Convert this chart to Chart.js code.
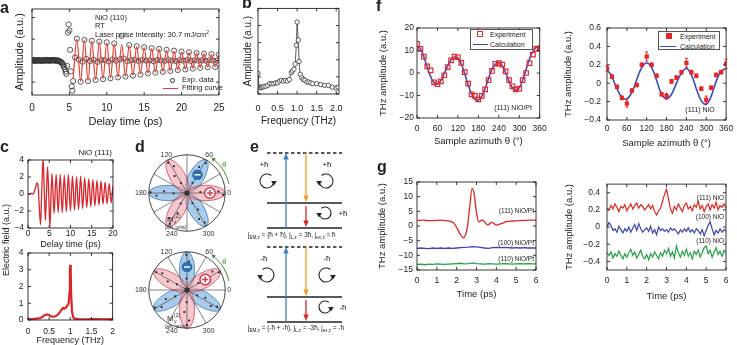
<!DOCTYPE html>
<html>
<head>
<meta charset="utf-8">
<script src="https://cdn.jsdelivr.net/npm/chart.js@4.4.1/dist/chart.umd.min.js"></script>
<style>
  body { margin: 0; background: #fff; }
  #fig { position: relative; width: 737px; height: 345px; overflow: hidden; background: #fff;
         font-family: "Liberation Sans", Arial, sans-serif; color: #222; }
  #fig canvas { position: absolute; }
  .txt { position: absolute; white-space: nowrap; line-height: 1; }
  .box { position: absolute; border: 1px solid #555; background: #fff; box-sizing: border-box; }
  .mk { position: absolute; box-sizing: border-box; }
</style>
</head>
<body>
<div id="fig"></div>
<script>
// ---------- panel a : NiO (110) time trace ----------
const aEarlyStart = 0, aEarlyStep = 0.1;
const aEarly = [0.02,-0.01,0.01,0.03,-0.02,0.00,0.02,0.01,-0.01,0.02,
                0.03,0.00,-0.02,0.01,0.02,0.00,0.01,-0.01,0.02,0.03,
                0.01,0.00,0.02,-0.01,0.01,0.02,0.00,0.01,0.03,0.02,
                0.00,0.01,0.02,-0.01,0.00,0.01,-0.02,-0.04,-0.06,-0.08,
                -0.10,-0.15,-0.22,-0.30,-0.40,-0.52,-0.62,-0.25,1.30,1.68,
                1.40,0.50,-0.50,-1.20,-1.40,-0.95];
const aExpStart = 5.75, aExpStep = 0.25;
const aExp = [0.15,
  1.02,0.05,-0.98,-0.05, 0.96,0.08,-0.95,-0.02, 0.92,0.04,-0.90,-0.06, 0.88,0.03,-0.86,0.02,
  0.85,-0.04,-0.82,0.05, 0.80,0.00,-0.78,0.06, 1.15,0.10,-0.74,-0.03, 0.72,0.02,-0.70,0.04,
  0.67,-0.02,-0.65,0.03, 0.62,0.00,-0.60,0.02, 0.58,-0.03,-0.56,0.03, 0.54,0.01,-0.52,-0.02,
  0.50,0.03,-0.48,0.00, 0.46,-0.02,-0.44,0.02, 0.42,0.00,-0.41,0.03, 0.39,-0.02,-0.37,0.02,
  0.35,0.00,-0.34,0.02, 0.32,-0.01,-0.31,0.02, 0.30,0.00,-0.29,0.01, 0.28];
const aFitStart = 5.5, aFitStep = 0.5;
const aFit = [-0.85, 1.0,-0.97, 0.95,-0.93, 0.91,-0.89, 0.87,-0.85, 0.83,-0.81, 0.79,-0.77,
  0.75,-0.73, 0.71,-0.69, 0.66,-0.64, 0.62,-0.60, 0.57,-0.55, 0.53,-0.51, 0.49,-0.47,
  0.45,-0.43, 0.41,-0.40, 0.38,-0.36, 0.35,-0.33, 0.32,-0.30, 0.29,-0.28, 0.27];
const aYTicks = [-1, 0, 1, 2];

// ---------- panel b : spectrum ----------
const bFreq = [0,0.03,0.06,0.09,0.12,0.15,0.2,0.25,0.3,0.35,0.4,0.45,0.5,0.55,0.6,0.65,0.7,0.75,0.8,0.85,
               0.88,0.92,0.95,0.98,1.0,1.03,1.05,1.08,1.12,1.16,1.2,1.25,1.3,1.35,1.4,1.5,1.6,1.7,1.8,1.9,2.0,2.05];
const bAmp = [0.24,0.08,0.07,0.08,0.08,0.09,0.09,0.10,0.12,0.12,0.12,0.13,0.13,0.15,0.16,0.15,0.16,0.15,0.17,0.25,
              0.27,0.29,0.35,0.57,0.84,0.63,0.38,0.23,0.19,0.17,0.16,0.14,0.14,0.13,0.12,0.12,0.11,0.10,0.10,0.08,0.07,0.08];
const bXTicks = [0, 0.5, 1, 1.5, 2];

// ---------- panel c : NiO (111) ----------
const cTime = [0,0.4,0.8,1.2,1.5,1.8,2.1,2.35,2.6,2.95,3.25,3.55,3.85,4.1,4.35,4.6,4.88,5.15,5.4,5.65,
  6.14,6.62,7.1,7.58,8.06,8.54,9.02,9.5,9.98,10.46,10.94,11.42,11.9,12.38,12.86,13.34,13.82,14.3,14.78,15.26,
  15.74,16.22,16.7,17.18,17.66,18.14,18.62,19.1,19.58,20];
const cField = [0.05,-0.05,0.1,0.0,0.3,0.8,1.3,1.1,-1.0,-3.6,0.5,4.2,0.2,-3.1,0.0,3.2,0.0,-3.9,-0.5,2.4,
  -2.3,2.3,-2.2,2.3,-2.2,2.2,-2.1,2.3,-2.0,2.1,-1.9,2.0,-1.8,2.1,-1.7,1.9,-1.6,1.8,-1.5,1.7,
  -1.4,1.6,-1.3,1.5,-1.2,1.4,-1.15,1.25,-1.05,1.0];
const cFreq = [0,0.1,0.2,0.3,0.35,0.4,0.45,0.5,0.55,0.6,0.65,0.7,0.75,0.8,0.83,0.86,0.9,0.93,0.96,0.98,
  0.99,1.0,1.01,1.02,1.04,1.07,1.1,1.2,1.4,1.6,1.8,2.0];
const cSpec = [0.05,0.05,0.08,0.12,0.2,0.3,0.33,0.28,0.22,0.2,0.22,0.3,0.45,0.65,0.72,0.68,0.75,0.85,1.0,1.6,
  3.0,3.3,2.8,1.5,0.5,0.15,0.08,0.05,0.04,0.05,0.04,0.05];

// ---------- panel d : polar lobes ----------
const dAngleLabels = ['0','60','120','180','240','300'];
const dTopBlue = [60,180,300], dTopRed = [0,120,240];
const dBotBlue = [90,210,330], dBotRed = [30,150,270];
const dTopDotAng = [62,56,65,58, 182,176,185,179, 298,304,295,301, 4,-5,3,-3, 121,126,116,122, 239,245,235,241];
const dBotDotAng = [92,97,86,91, 208,203,214,209, 332,337,326,331, 31,25,36,29, 151,156,146,150, 268,263,274,270];
const dDotR = [0.3,0.55,0.75,0.92, 0.35,0.6,0.8,0.95, 0.3,0.52,0.75,0.9, 0.35,0.6,0.82,0.95, 0.3,0.55,0.78,0.93, 0.32,0.58,0.8,0.92];

// ---------- panel e : level scheme ----------
const eLevelY = [13,63,88,107,157,182];
const eLevelDash = [1,0,0,1,0,0];
const eLevelX = [19,94];
const eArrows = [[38,88,13,'#3b82c4'],[58,13,62,'#f0a020'],[58,66,87,'#d8262a'],
                 [38,182,107,'#3b82c4'],[58,107,156,'#f0a020'],[58,160,181,'#d8262a']];
const eCurls = [[19,41,7,0,'+ħ',16,25],[78,41,7,1,'+ħ',79,25],[77,73,6,1,'+ħ',95,74],
                [19,135,7,1,'-ħ',16,119],[78,135,7,0,'-ħ',79,119],[77,167,6,0,'-ħ',95,168]];

// ---------- panel f : azimuth dependence ----------
const fAngStep = 10;
const fExp = [12.9,10.7,7.3,2.9,1.2,-4.2,-5.0,-3.7,-1.0,2.6,5.6,7.3,7.0,4.5,0.4,-4.7,-9.5,-10.2,-11.7,-10.2,
              -7.3,-3.2,0.9,4.1,4.4,3.7,0.7,-3.2,-5.9,-7.3,-6.9,-3.2,0.0,4.4,8.2,10.7,11.0];
const fCalc = [12.0,10.8,7.2,2.6,-1.6,-4.4,-5.0,-3.4,-0.2,3.2,5.9,7.1,6.6,4.0,-0.3,-5.2,-9.3,-11.6,-12.0,-10.4,
               -6.8,-2.4,1.6,4.0,4.6,3.2,0.2,-3.6,-6.6,-7.6,-6.6,-3.2,1.6,6.2,9.6,11.4,12.0];
const fAngStepR = 15;
const fExpR = [0.16,0.07,-0.04,-0.16,-0.22,-0.08,-0.02,0.20,0.29,0.20,0.08,-0.12,-0.14,0.02,0.06,0.12,0.22,0.12,0.08,-0.06,
               -0.18,-0.05,0.09,0.12,0.21];
const fErrR = [0.03,0.02,0.02,0.02,0.04,0.02,0.02,0.02,0.05,0.02,0.02,0.02,0.03,0.02,0.02,0.02,0.05,0.02,0.02,0.02,
               0.04,0.02,0.02,0.02,0.05];
const fCalcR = [0.15,0.07,-0.06,-0.15,-0.17,-0.10,0.04,0.17,0.22,0.17,0.03,-0.12,-0.17,-0.12,0.0,0.11,0.16,0.09,-0.06,-0.19,
                -0.23,-0.14,0.02,0.13,0.16];

// ---------- panel g : THz waveforms ----------
const gRedT = [0,0.3,0.6,0.9,1.2,1.5,1.7,1.85,2.0,2.15,2.33,2.45,2.55,2.65,2.78,2.88,3.0,3.12,3.25,3.35,
               3.5,3.6,3.75,3.85,4.0,4.15,4.3,4.5,4.8,5.1,5.4,5.7,6.0];
const gRed = [1.9,2.0,1.8,1.9,2.0,1.8,1.6,1.0,-0.5,-2.5,-4.0,-3.0,0.0,6.0,12.8,11.0,4.5,1.4,2.0,1.8,
              0.6,0.4,1.3,1.0,0.3,0.6,0.9,1.5,1.7,1.8,1.9,2.0,2.0];
const gSlowStep = 0.2;
const gBlue = [-7.6,-7.5,-7.6,-7.7,-7.5,-7.6,-7.5,-7.6,-7.5,-7.6,-7.5,-7.4,-7.3,-7.2,-7.0,-7.1,-7.3,-7.5,-7.6,-7.4,
               -7.3,-7.4,-7.3,-7.4,-7.5,-7.4,-7.5,-7.4,-7.5,-7.5,-7.5];
const gGreen = [-13.1,-13.0,-13.2,-13.0,-13.1,-12.9,-13.0,-13.1,-13.0,-12.9,-12.8,-12.7,-12.9,-12.8,-12.6,-12.8,-12.9,-13.0,-12.8,-12.9,
                -13.0,-12.9,-12.8,-12.9,-13.0,-12.9,-12.8,-12.9,-12.8,-12.9,-12.9];
const gFastStep = 0.1;
const gRedR = [0.22,0.20,0.25,0.21,0.27,0.23,0.18,0.24,0.22,0.26, 0.19,0.23,0.27,0.21,0.25,0.28,0.22,0.26,0.24,0.20,
               0.23,0.26,0.21,0.25,0.18,0.14,0.19,0.22,0.30,0.38, 0.44,0.33,0.21,0.16,0.24,0.20,0.27,0.22,0.18,0.25,
               0.28,0.21,0.24,0.19,0.26,0.23,0.30,0.21,0.25,0.18, 0.24,0.27,0.20,0.26,0.22,0.29,0.20,0.25,0.23,0.27, 0.22];
const gBlueR = [0.0,0.05,0.02,-0.04,-0.02,-0.06,0.01,-0.03,-0.07,-0.02, -0.05,0.0,-0.06,-0.01,0.03,-0.04,0.04,-0.02,-0.06,-0.03,
                -0.01,-0.05,0.01,-0.07,-0.03,-0.09,0.0,-0.04,-0.02,-0.05, -0.03,-0.06,-0.01,-0.04,-0.02,-0.05,-0.08,-0.03,-0.06,-0.02,
                -0.05,-0.01,-0.06,-0.03,-0.07,-0.02,-0.04,-0.08,-0.03,-0.10, -0.04,0.02,0.06,-0.02,-0.09,-0.04,-0.07,-0.02,-0.06,-0.03, -0.05];
const gGreenR = [-0.30,-0.33,-0.29,-0.36,-0.31,-0.34,-0.28,-0.33,-0.37,-0.31, -0.35,-0.30,-0.26,-0.33,-0.29,-0.36,-0.32,-0.27,-0.34,-0.37,
                 -0.32,-0.38,-0.31,-0.35,-0.29,-0.33,-0.37,-0.30,-0.34,-0.27, -0.31,-0.25,-0.34,-0.29,-0.36,-0.22,-0.30,-0.35,-0.28,-0.33,
                 -0.26,-0.34,-0.30,-0.37,-0.28,-0.32,-0.27,-0.35,-0.30,-0.24, -0.22,-0.31,-0.27,-0.35,-0.29,-0.24,-0.32,-0.28,-0.34,-0.27, -0.30];
const gRTicks = [-0.4,-0.2,0,0.2,0.4];

// ---------- helpers ----------
const fig = document.getElementById('fig');
const FONT = '"Liberation Sans", Arial, sans-serif';
Chart.defaults.font.family = FONT;
Chart.defaults.color = '#222';
Chart.defaults.animation = false;
Chart.defaults.events = [];
Chart.defaults.plugins.legend.display = false;
Chart.defaults.plugins.tooltip.enabled = false;

const seq = (s, st, n) => Array.from({length: n}, (_, i) => +(s + i * st).toFixed(3));
const pts = (xs, ys) => ys.map((y, i) => ({x: xs[i], y}));
const rad = d => d * Math.PI / 180;
const num = d => v => {
  const r = +(+v).toFixed(3);
  if (r === 0) return '0';
  return (r < 0 ? '\u2212' : '') + (d == null ? String(Math.abs(r)) : Math.abs(r).toFixed(d));
};
const blank = () => '';
const fixTicks = (axis, list) => { axis.afterBuildTicks = s => { s.ticks = list.map(v => ({value: v})); }; return axis; };

function canvasAt(r) {
  const cv = document.createElement('canvas');
  cv.width = r.w; cv.height = r.h;
  cv.style.left = r.x + 'px'; cv.style.top = r.y + 'px';
  fig.appendChild(cv);
  return cv;
}

function note(html, x, y, size, align, style) {
  const d = document.createElement('div');
  d.className = 'txt';
  d.innerHTML = html;
  d.style.fontSize = size + 'px';
  d.style.left = x + 'px'; d.style.top = y + 'px';
  const tx = align === 'r' ? '-100%' : align === 'c' ? '-50%' : '0';
  d.style.transform = 'translate(' + tx + ',-50%)' + (style && style.rot ? ' rotate(-90deg)' : '');
  if (style && style.bold) d.style.fontWeight = 'bold';
  if (style && style.color) d.style.color = style.color;
  fig.appendChild(d);
  return d;
}

function mark(cls, css) {
  const d = document.createElement('div');
  d.className = cls;
  Object.assign(d.style, css);
  fig.appendChild(d);
  return d;
}

// box round the plot area with inward ticks on all sides
const frame = {
  id: 'frame',
  afterDatasetsDraw(chart) {
    const {ctx, chartArea: a} = chart;
    const x = chart.scales.x, y = chart.scales.y;
    ctx.save();
    ctx.strokeStyle = '#222'; ctx.lineWidth = 0.9;
    ctx.strokeRect(a.left, a.top, a.right - a.left, a.bottom - a.top);
    ctx.beginPath();
    x.ticks.forEach(t => {
      const p = x.getPixelForValue(t.value);
      ctx.moveTo(p, a.bottom); ctx.lineTo(p, a.bottom - 3);
      ctx.moveTo(p, a.top); ctx.lineTo(p, a.top + 3);
    });
    y.ticks.forEach(t => {
      const p = y.getPixelForValue(t.value);
      ctx.moveTo(a.left, p); ctx.lineTo(a.left + 3, p);
      ctx.moveTo(a.right, p); ctx.lineTo(a.right - 3, p);
    });
    ctx.stroke();
    ctx.restore();
  }
};

function ax(min, max, step, fs, pad, fmt, title, ts, tpad, lh) {
  return {
    type: 'linear', min, max,
    grid: {display: false, drawTicks: false}, border: {display: false},
    ticks: {stepSize: step, padding: pad, font: {size: fs}, color: '#222', maxRotation: 0, autoSkip: false,
            includeBounds: false, callback: fmt},
    title: {display: !!title, text: title, color: '#222', font: {size: ts, lineHeight: lh || 1.2},
            padding: {top: tpad, bottom: tpad}}
  };
}

function panel(rect, box, datasets, xA, yA, extra) {
  const cv = canvasAt(rect);
  xA.afterFit = s => { s.height = rect.y + rect.h - box.b; };
  yA.afterFit = s => { s.width = box.l - rect.x; };
  return new Chart(cv, {
    type: 'scatter',
    data: {datasets},
    options: {
      responsive: false, animation: false,
      layout: {padding: {left: 0, top: box.t - rect.y, right: rect.x + rect.w - box.r, bottom: 0}},
      scales: {x: xA, y: yA}
    },
    plugins: [frame].concat(extra || [])
  });
}

const line = (data, color, w, o) => Object.assign({data, showLine: true, borderColor: color, borderWidth: w,
  pointRadius: 0, backgroundColor: color}, o || {});

// ---------- panel a ----------
panel({x: 0, y: 0, w: 232, h: 130}, {l: 32, t: 8, r: 220, b: 95}, [
    line(pts(seq(aFitStart, aFitStep, aFit.length), aFit), '#ea3b2e', 1.2, {cubicInterpolationMode: 'monotone'}),
    {data: pts(seq(aEarlyStart, aEarlyStep, aEarly.length), aEarly).concat(pts(seq(aExpStart, aExpStep, aExp.length), aExp)),
     pointRadius: 2.6, borderWidth: 0.8, borderColor: '#333', backgroundColor: 'rgba(255,255,255,0)'}
  ],
  ax(0, 25, 5, 10, 7.5, num(), 'Delay time (ps)', 11, 1.4),
  fixTicks(ax(-1.6, 2.4, 1, 10, 3, blank, 'Amplitude (a.u.)', 11, 13.4), aYTicks));
note('NiO (110)', 95, 18, 7.5, 'l');
note('RT', 95, 26, 7.5, 'l');
note('Laser pulse intensity: 30.7 mJ/cm<sup style="font-size:5px">2</sup>', 95, 34, 7.5, 'l');
mark('mk', {left: '169.5px', top: '77.5px', width: '5.2px', height: '5.2px', border: '0.9px solid #333', borderRadius: '50%'});
note('Exp. data', 182, 80, 7.5, 'l');
mark('mk', {left: '163px', top: '87.5px', width: '15px', height: '0', borderTop: '1.2px solid #ea3b2e'});
note('Fitting curve', 182, 88, 7.5, 'l');

// ---------- panel b ----------
panel({x: 236, y: 0, w: 116, h: 130}, {l: 258, t: 5, r: 342, b: 94}, [
    line(pts(bFreq, bAmp), '#333', 0.8, {pointRadius: 2.2, pointBorderWidth: 0.8, pointBorderColor: '#333',
      pointBackgroundColor: '#fff'})
  ],
  fixTicks(ax(0, 2.07, 0.5, 9, 9.2, num(1), 'Frequency (THz)', 10, 2.3), bXTicks),
  ax(0, 1, 0.2, 9, 3, blank, 'Amplitude (a.u.)', 10, 6));

// ---------- panel c ----------
panel({x: 0, y: 148, w: 122, h: 106}, {l: 28, t: 160, r: 113, b: 228}, [
    line(pts(cTime, cField), '#d8242a', 1.3, {cubicInterpolationMode: 'monotone'})
  ],
  ax(0, 20, 5, 8.5, 1, num(), 'Delay time (ps)', 9, 3.6),
  ax(-4, 4, 2, 8.5, 4, num(), '', 9, 0));
panel({x: 0, y: 243, w: 122, h: 102}, {l: 28, t: 253, r: 113, b: 320}, [
    line(pts(cFreq, cSpec), '#d8242a', 2.2)
  ],
  ax(0, 2, 0.5, 8.5, 7, num(), 'Frequency (THz)', 9, 0, 1),
  ax(0, 4, 1, 8.5, 4.5, num(), '', 9, 0));
note('NiO (111)', 112, 153, 8, 'r');
note('Electric field (a.u.)', 6, 240, 9, 'c', {rot: true});

// ---------- panel d ----------
function rose(rect, blue, red, dotA, minus, plus, sub, mOff) {
  const cv = canvasAt(rect);
  const k = rect.w / 2 / 41;
  const data = dotA.map((a, i) => ({x: dDotR[i] * Math.cos(rad(a)), y: dDotR[i] * Math.sin(rad(a))}));
  new Chart(cv, {
    type: 'scatter',
    data: {datasets: [{data, pointStyle: 'rect', pointRadius: 1.3, backgroundColor: '#222', borderColor: '#222', borderWidth: 0}]},
    options: {responsive: false, layout: {padding: 0},
      scales: {x: {type: 'linear', display: false, min: -k, max: k}, y: {type: 'linear', display: false, min: -k, max: k}}},
    plugins: [{
      id: 'rose',
      beforeDatasetsDraw(ch) {
        const {ctx} = ch, X = ch.scales.x, Y = ch.scales.y;
        const cx = X.getPixelForValue(0), cy = Y.getPixelForValue(0), R = X.getPixelForValue(1) - cx;
        ctx.save();
        const lobe = (a, fill, stroke) => {
          const t = rad(a);
          ctx.beginPath();
          ctx.ellipse(cx + 0.5 * R * Math.cos(t), cy - 0.5 * R * Math.sin(t), 0.5 * R, 0.2 * R, -t, 0, 2 * Math.PI);
          ctx.fillStyle = fill; ctx.fill();
          ctx.strokeStyle = stroke; ctx.lineWidth = 0.8; ctx.stroke();
        };
        blue.forEach(a => lobe(a, 'rgba(140,185,225,0.75)', '#3d7bb8'));
        red.forEach(a => lobe(a, 'rgba(244,180,190,0.75)', '#cf4a5c'));
        ctx.strokeStyle = '#333'; ctx.lineWidth = 0.6;
        ctx.beginPath();
        for (let a = 0; a < 360; a += 30) {
          ctx.moveTo(cx, cy); ctx.lineTo(cx + R * Math.cos(rad(a)), cy - R * Math.sin(rad(a)));
        }
        ctx.stroke();
        ctx.beginPath(); ctx.arc(cx, cy, R, 0, 2 * Math.PI); ctx.lineWidth = 0.9; ctx.stroke();
        ctx.restore();
      },
      afterDatasetsDraw(ch) {
        const {ctx} = ch, X = ch.scales.x, Y = ch.scales.y;
        const cx = X.getPixelForValue(0), cy = Y.getPixelForValue(0), R = X.getPixelForValue(1) - cx;
        ctx.save();
        ctx.fillStyle = '#333';
        ctx.beginPath(); ctx.arc(cx, cy, 2.6, 0, 2 * Math.PI); ctx.fill();
        // signs
        const sign = (a, r, isPlus) => {
          const x = cx + r * R * Math.cos(rad(a)), y = cy - r * R * Math.sin(rad(a));
          ctx.beginPath(); ctx.arc(x, y, 5.3, 0, 2 * Math.PI);
          ctx.lineWidth = 1.5;
          if (isPlus) {
            ctx.fillStyle = '#fff'; ctx.fill(); ctx.strokeStyle = '#d23a4a'; ctx.stroke();
            ctx.beginPath(); ctx.moveTo(x - 3, y); ctx.lineTo(x + 3, y); ctx.moveTo(x, y - 3); ctx.lineTo(x, y + 3); ctx.stroke();
          } else {
            ctx.fillStyle = '#2f6fae'; ctx.fill();
            ctx.strokeStyle = '#fff'; ctx.beginPath(); ctx.moveTo(x - 3, y); ctx.lineTo(x + 3, y); ctx.stroke();
          }
        };
        sign(minus[0], minus[1], false);
        sign(plus[0], plus[1], true);
        // angle labels
        ctx.font = '7px ' + FONT; ctx.fillStyle = '#333';
        const spots = [['left', 'middle', 2, 0], ['center', 'bottom', 3, -1], ['center', 'bottom', -1.5, -1],
                       ['right', 'middle', -2, 0], ['center', 'top', 4, 4], ['center', 'top', 2.5, 4]];
        dAngleLabels.forEach((s, i) => {
          const a = rad(Number(s));
          ctx.textAlign = spots[i][0]; ctx.textBaseline = spots[i][1];
          ctx.fillText(s, cx + R * Math.cos(a) + spots[i][2], cy - R * Math.sin(a) + spots[i][3]);
        });
        // theta arrow
        const g = '#4c8a3c', rr = 1.12 * R, t = rad(50);
        ctx.strokeStyle = g; ctx.fillStyle = g; ctx.lineWidth = 1;
        ctx.beginPath(); ctx.arc(cx, cy, rr, rad(-12), -t, true); ctx.stroke();
        const hx = cx + rr * Math.cos(t), hy = cy - rr * Math.sin(t);
        const ux = -Math.sin(t), uy = -Math.cos(t);
        ctx.beginPath(); ctx.moveTo(hx + ux * 4, hy + uy * 4);
        ctx.lineTo(hx - uy * 2.2, hy + ux * 2.2); ctx.lineTo(hx + uy * 2.2, hy - ux * 2.2); ctx.closePath(); ctx.fill();
        ctx.font = '8px ' + FONT; ctx.textAlign = 'center'; ctx.textBaseline = 'middle';
        ctx.fillText('\u03b8', cx + 1.22 * R * Math.cos(rad(37)), cy - 1.22 * R * Math.sin(rad(37)));
        // M label
        ctx.fillStyle = '#333'; ctx.textAlign = 'left'; ctx.textBaseline = 'alphabetic';
        const mx = cx - 20, my = cy + mOff;
        ctx.font = '8px ' + FONT; ctx.fillText('M', mx, my);
        ctx.font = '5px ' + FONT; ctx.fillText(sub, mx + 7, my + 1.5); ctx.fillText('(2)', mx + 7, my - 4.5);
        ctx.font = '4.6px ' + FONT; ctx.fillText('[arb. units]', mx - 2, my + 6.5);
        ctx.restore();
      }
    }]
  });
}
rose({x: 127, y: 133, w: 120, h: 120}, dTopBlue, dTopRed, dTopDotAng, [60, 0.55], [0, 0.6], 'x', 29);
rose({x: 127, y: 230, w: 120, h: 120}, dBotBlue, dBotRed, dBotDotAng, [90, 0.6], [30, 0.55], 'y', 31);

// ---------- panel e ----------
(function () {
  const rect = {x: 248, y: 140, w: 122, h: 200};
  const cv = canvasAt(rect);
  const levels = eLevelY.map((y, i) => line(eLevelX.map(x => ({x, y})), '#222', 1.6,
    {borderDash: eLevelDash[i] ? [3.5, 2.5] : []}));
  const subText = (ctx, parts, x, y, fs) => {
    parts.forEach(([s, sub]) => {
      ctx.font = (sub ? fs * 0.72 : fs) + 'px ' + FONT;
      ctx.fillText(s, x, y + (sub ? fs * 0.3 : 0));
      x += ctx.measureText(s).width;
    });
  };
  new Chart(cv, {
    type: 'scatter',
    data: {datasets: levels},
    options: {responsive: false, layout: {padding: 0},
      scales: {x: {type: 'linear', display: false, min: 0, max: rect.w},
               y: {type: 'linear', display: false, min: 0, max: rect.h, reverse: true}}},
    plugins: [{
      id: 'eDraw',
      afterDatasetsDraw(ch) {
        const {ctx} = ch, X = ch.scales.x, Y = ch.scales.y;
        ctx.save();
        eArrows.forEach(([x, y0, y1, c]) => {
          const px = X.getPixelForValue(x), p0 = Y.getPixelForValue(y0), p1 = Y.getPixelForValue(y1);
          const dir = Math.sign(p1 - p0);
          ctx.strokeStyle = c; ctx.lineWidth = 1.3;
          ctx.beginPath(); ctx.moveTo(px, p0); ctx.lineTo(px, p1 - dir * 4); ctx.stroke();
          ctx.fillStyle = c;
          ctx.beginPath(); ctx.moveTo(px, p1); ctx.lineTo(px - 2.7, p1 - dir * 6.5); ctx.lineTo(px + 2.7, p1 - dir * 6.5);
          ctx.closePath(); ctx.fill();
        });
        ctx.fillStyle = '#222'; ctx.strokeStyle = '#222';
        eCurls.forEach(([x, y, r, m, txt, tx, ty]) => {
          const px = X.getPixelForValue(x), py = Y.getPixelForValue(y);
          ctx.save(); ctx.translate(px, py); if (m) ctx.scale(-1, 1);
          ctx.lineWidth = 1.1;
          ctx.beginPath(); ctx.arc(0, 0, r, 0.15, -0.9); ctx.stroke();
          const hx = r * Math.cos(0.15), hy = r * Math.sin(0.15);
          ctx.beginPath(); ctx.moveTo(hx - 2.8, hy - 1); ctx.lineTo(hx + 2.8, hy - 1); ctx.lineTo(hx, hy + 3.6);
          ctx.closePath(); ctx.fill();
          ctx.restore();
          ctx.font = '8px ' + FONT; ctx.textAlign = 'center'; ctx.textBaseline = 'middle';
          ctx.fillText(txt, X.getPixelForValue(tx), Y.getPixelForValue(ty));
        });
        ctx.textAlign = 'left'; ctx.textBaseline = 'alphabetic';
        subText(ctx, [['j', 0], ['EM,z', 1], [' = (ħ + ħ), j', 0], ['L,z', 1], [' = 3ħ, j', 0], ['ex,z', 1], [' = ħ', 0]],
          X.getPixelForValue(0), Y.getPixelForValue(97), 6.4);
        subText(ctx, [['j', 0], ['EM,z', 1], [' = (-ħ + -ħ), j', 0], ['L,z', 1], [' = -3ħ, j', 0], ['ex,z', 1], [' = -ħ', 0]],
          X.getPixelForValue(0), Y.getPixelForValue(190), 6.4);
        ctx.restore();
      }
    }]
  });
})();

// ---------- panel f ----------
panel({x: 372, y: 0, w: 180, h: 150}, {l: 417, t: 28, r: 542, b: 118}, [
    {data: pts(seq(0, fAngStep, fExp.length), fExp), pointStyle: 'rect', pointRadius: 3.2, borderWidth: 1.2,
     borderColor: '#e8262a', backgroundColor: 'rgba(255,255,255,0)'},
    line(pts(seq(0, fAngStep, fCalc.length), fCalc), '#3a4cc0', 1.6, {tension: 0.4})
  ],
  ax(0, 360, 60, 8.5, 5.2, num(), 'Sample azimuth \u03b8 (\u00b0)', 9.5, 2.6),
  ax(-20, 20, 10, 8.5, 3, num(), 'THz amplitude (a.u.)', 9.5, 5.6));
mark('box', {left: '470px', top: '29px', width: '63px', height: '21px'});
mark('mk', {left: '477px', top: '30.5px', width: '6.4px', height: '6.4px', border: '1.2px solid #e8262a'});
note('Experiment', 490, 34, 7, 'l');
mark('mk', {left: '473px', top: '43.5px', width: '15px', height: '0', borderTop: '1.6px solid #3a4cc0'});
note('Calculation', 490, 44, 7, 'l');
note('(111) NiO/Pt', 532, 107, 7, 'r');

const errBars = {
  id: 'errBars',
  afterDatasetsDraw(chart) {
    const {ctx} = chart, X = chart.scales.x, Y = chart.scales.y;
    ctx.save(); ctx.strokeStyle = '#e8262a'; ctx.lineWidth = 1;
    ctx.beginPath();
    fExpR.forEach((v, i) => {
      const px = X.getPixelForValue(i * fAngStepR), hi = Y.getPixelForValue(v + fErrR[i]), lo = Y.getPixelForValue(v - fErrR[i]);
      ctx.moveTo(px, hi); ctx.lineTo(px, lo);
      ctx.moveTo(px - 1.5, hi); ctx.lineTo(px + 1.5, hi);
      ctx.moveTo(px - 1.5, lo); ctx.lineTo(px + 1.5, lo);
    });
    ctx.stroke(); ctx.restore();
  }
};
panel({x: 560, y: 0, w: 177, h: 150}, {l: 607, t: 28, r: 730, b: 120}, [
    {data: pts(seq(0, fAngStepR, fExpR.length), fExpR), pointStyle: 'rect', pointRadius: 3, borderWidth: 0,
     backgroundColor: '#e8262a', borderColor: '#e8262a'},
    line(pts(seq(0, fAngStepR, fCalcR.length), fCalcR), '#3a4cc0', 1.6, {tension: 0.4})
  ],
  ax(0, 360, 60, 8.5, 3.8, num(), 'Sample azimuth \u03b8 (\u00b0)', 9.5, 1),
  ax(-0.4, 0.6, 0.2, 8.5, 6, num(), 'THz amplitude (a.u.)', 9.5, 2.6),
  [errBars]);
mark('box', {left: '658px', top: '31px', width: '62px', height: '19px'});
mark('mk', {left: '666px', top: '33px', width: '6.2px', height: '6.2px', background: '#e8262a'});
note('Experiment', 680, 36, 7, 'l');
mark('mk', {left: '660px', top: '45.5px', width: '16px', height: '0', borderTop: '1.6px solid #3a4cc0'});
note('Calculation', 680, 46, 7, 'l');
note('(111) NiO', 700, 109, 7, 'c');

// ---------- panel g ----------
panel({x: 372, y: 172, w: 180, h: 173}, {l: 417, t: 182, r: 536, b: 270}, [
    line(pts(gRedT, gRed), '#e3241f', 1.3, {cubicInterpolationMode: 'monotone'}),
    line(pts(seq(0, gSlowStep, gBlue.length), gBlue), '#3c46b0', 1.3),
    line(pts(seq(0, gSlowStep, gGreen.length), gGreen), '#22a045', 1.3)
  ],
  ax(0, 6, 1, 8.5, 5.5, num(), 'Time (ps)', 9.5, 45.3),
  ax(-15, 15, 5, 8.5, 4, num(), 'THz amplitude (a.u.)', 9.5, 4.8));
note('(111) NiO/Pt', 534, 211, 6.5, 'r');
note('(100) NiO/Pt', 534, 243, 6.5, 'r');
note('(110) NiO/Pt', 534, 259, 6.5, 'r');

panel({x: 560, y: 172, w: 177, h: 173}, {l: 607, t: 183, r: 726, b: 270}, [
    line(pts(seq(0, gFastStep, gRedR.length), gRedR), '#e3241f', 1.2),
    line(pts(seq(0, gFastStep, gBlueR.length), gBlueR), '#3c46b0', 1.2),
    line(pts(seq(0, gFastStep, gGreenR.length), gGreenR), '#22a045', 1.2)
  ],
  ax(0, 6, 1, 8.5, 5.5, num(), 'Time (ps)', 9.5, 43.3),
  fixTicks(ax(-0.5, 0.5, 0.2, 8.5, 7, num(), 'THz amplitude (a.u.)', 9.5, 3.3), gRTicks));
note('(111) NiO', 724, 198, 6.5, 'r');
note('(100) NiO', 724, 217, 6.5, 'r');
note('(110) NiO', 724, 241, 6.5, 'r');

// ---------- panel letters ----------
note('a', 0, 8.4, 16, 'l', {bold: true});
note('b', 242, 3, 16, 'l', {bold: true});
note('c', 0, 147, 16, 'l', {bold: true});
note('d', 135, 147.4, 16, 'l', {bold: true});
note('e', 250, 147.4, 16, 'l', {bold: true});
note('f', 376, 6.4, 16, 'l', {bold: true});
note('g', 377, 167.4, 16, 'l', {bold: true});
</script>
</body>
</html>
